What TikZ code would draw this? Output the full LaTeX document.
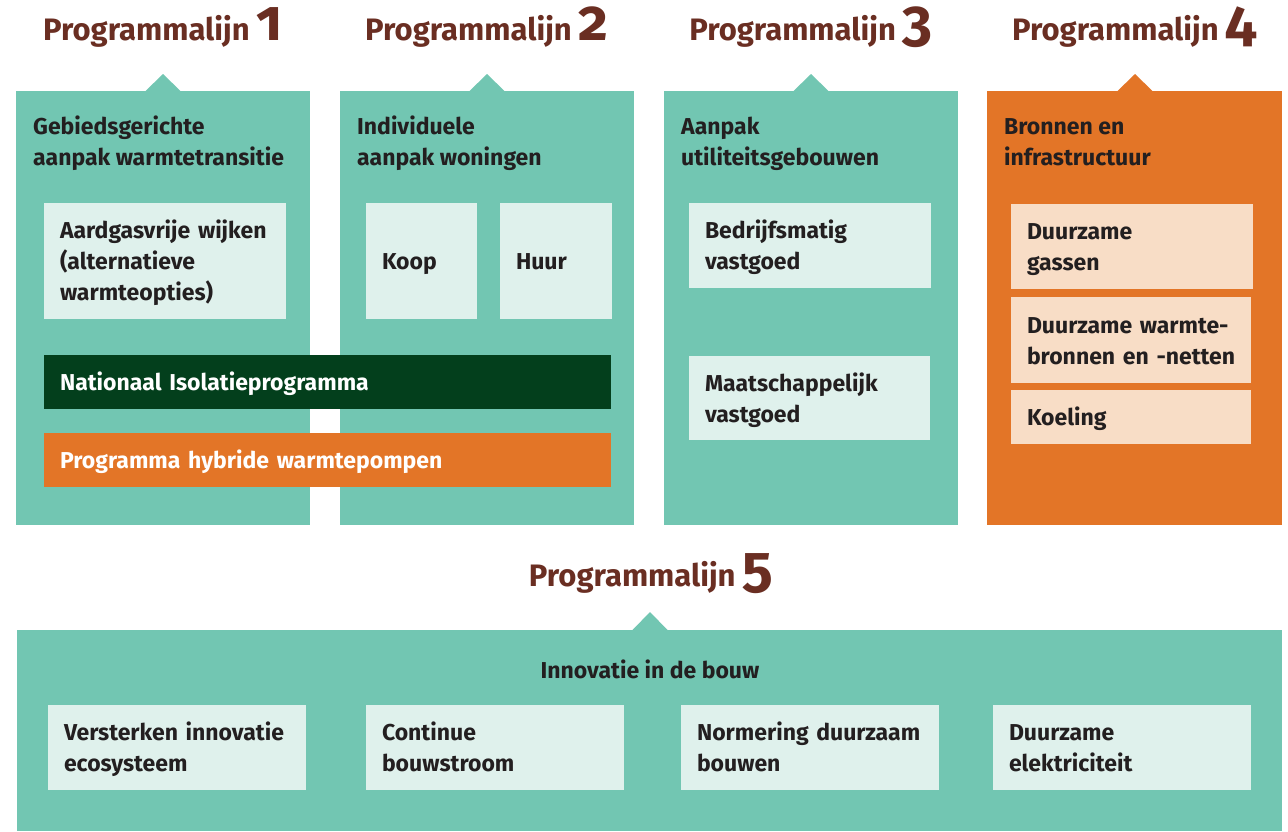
\documentclass[tikz,border=0pt]{standalone}
\usepackage{fontspec}
\setmainfont{Fira Sans}
\definecolor{teal}{HTML}{72C6B2}
\definecolor{lightbox}{HTML}{DFF1EC}
\definecolor{orng}{HTML}{E37527}
\definecolor{dgreen}{HTML}{033F1C}
\definecolor{peach}{HTML}{F8DDC6}
\definecolor{txt}{HTML}{231F20}
\definecolor{brown}{HTML}{6A2E22}
\newcommand\ls{\rule[-7pt]{0pt}{31pt}}
\newcommand\headnum[1]{\smash{\fontsize{58}{58}\selectfont\addfontfeatures{Numbers=OldStyle}#1}}
\tikzset{
  colbox/.style={draw=none, fill=#1, anchor=north west, inner sep=0pt},
  tab/.style={fill=#1, draw=none},
  heading/.style={anchor=base, inner sep=0pt, text=brown, font=\bfseries\fontsize{31}{31}\selectfont},
  title/.style={anchor=west, inner sep=0pt, align=left, text=txt, font=\bfseries\fontsize{23}{31}\selectfont},
  itembox/.style={fill=#1, draw=none, inner xsep=16pt, inner ysep=0pt, align=left, text=txt, font=\bfseries\fontsize{23}{31}\selectfont},
  bar/.style={fill=#1, draw=none, inner xsep=16pt, inner ysep=0pt, align=left, text=white, font=\bfseries\fontsize{23}{31}\selectfont},
}
\begin{document}
\begin{tikzpicture}[x=1pt,y=-1pt]
\useasboundingbox (0,0) rectangle (1288,831);
\fill[white] (0,0) rectangle (1288,831);
% headings
\node[heading] (h1) at (163,40) {Programmalijn\hspace{7pt}\headnum{1}};
\node[heading] (h2) at (487,40) {Programmalijn\hspace{7pt}\headnum{2}};
\node[heading] (h3) at (811,40) {Programmalijn\hspace{7pt}\headnum{3}};
\node[heading] (h4) at (1134.5,40) {Programmalijn\hspace{7pt}\headnum{4}};
\node[heading] (h5) at (651,586) {Programmalijn\hspace{7pt}\headnum{5}};
% columns
\node[colbox=teal, minimum width=294pt, minimum height=434pt] (c1) at (16,91) {};
\node[colbox=teal, minimum width=294pt, minimum height=434pt] (c2) at (340,91) {};
\node[colbox=teal, minimum width=294pt, minimum height=434pt] (c3) at (664,91) {};
\node[colbox=orng, minimum width=295pt, minimum height=434pt] (c4) at (987,91) {};
\node[colbox=teal, minimum width=1265pt, minimum height=201pt] (c5) at (17,630) {};
\fill[tab=teal] (145,91.5) -- (163,74) -- (181,91.5) -- cycle;
\fill[tab=teal] (469,91.5) -- (487,74) -- (505,91.5) -- cycle;
\fill[tab=teal] (793,91.5) -- (811,74) -- (829,91.5) -- cycle;
\fill[tab=orng] (1117,91.5) -- (1135,74) -- (1153,91.5) -- cycle;
\fill[tab=teal] (632,630.5) -- (650,612) -- (668,630.5) -- cycle;
% titles
\node[title] (t1) at (33,141.5) {\ls Gebiedsgerichte\\\ls aanpak~warmtetransitie};
\node[title] (t2) at (357,141.5) {\ls Individuele\\\ls aanpak~woningen};
\node[title] (t3) at (681,141.5) {\ls Aanpak\\\ls utiliteitsgebouwen};
\node[title] (t4) at (1004,141.5) {\ls Bronnen~en\\\ls infrastructuur};
% column 1 & 2
\node[itembox=lightbox, minimum width=242pt, minimum height=116pt, text width=210pt] (b1) at (165,261) {\ls Aardgasvrije~wijken\\\ls (alternatieve\\\ls warmteopties)};
\node[itembox=lightbox, minimum width=111pt, minimum height=116pt, text width=79pt] (koop) at (421.5,261) {\ls Koop};
\node[itembox=lightbox, minimum width=112pt, minimum height=116pt, text width=80pt] (huur) at (556,261) {\ls Huur};
\node[bar=dgreen, minimum width=567pt, minimum height=54pt, text width=535pt] (nip) at (327.5,382) {\ls Nationaal~Isolatieprogramma};
\node[bar=orng, minimum width=567pt, minimum height=54pt, text width=535pt] (phw) at (327.5,460) {\ls Programma~hybride~warmtepompen};
% column 3
\node[itembox=lightbox, minimum width=242pt, minimum height=85pt, text width=210pt] (bv) at (810,245.5) {\ls Bedrijfsmatig\\\ls vastgoed};
\node[itembox=lightbox, minimum width=241pt, minimum height=84pt, text width=209pt] (mv) at (809.5,398) {\ls Maatschappelijk\\\ls vastgoed};
% column 4
\node[itembox=peach, minimum width=242pt, minimum height=85pt, text width=210pt] (dg) at (1132,246.5) {\ls Duurzame\\\ls gassen};
\node[itembox=peach, minimum width=240pt, minimum height=86pt, text width=208pt] (dw) at (1131,340) {\ls \mbox{Duurzame warmte-}\\\ls \mbox{bronnen en -netten}};
\node[itembox=peach, minimum width=240pt, minimum height=54pt, text width=208pt] (ko) at (1131,417) {\ls Koeling};
% bottom
\node[anchor=center, inner sep=0pt, text=txt, font=\bfseries\fontsize{23}{31}\selectfont] (inn) at (650,670) {\ls Innovatie in de bouw};
\node[itembox=lightbox, minimum width=258pt, minimum height=85pt, text width=226pt] (v1) at (177,747.5) {\ls Versterken~innovatie\\\ls ecosysteem};
\node[itembox=lightbox, minimum width=258pt, minimum height=85pt, text width=226pt] (v2) at (495,747.5) {\ls Continue\\\ls bouwstroom};
\node[itembox=lightbox, minimum width=258pt, minimum height=85pt, text width=226pt] (v3) at (810,747.5) {\ls Normering~duurzaam\\\ls bouwen};
\node[itembox=lightbox, minimum width=258pt, minimum height=85pt, text width=226pt] (v4) at (1122,747.5) {\ls Duurzame\\\ls elektriciteit};
\end{tikzpicture}
\end{document}
